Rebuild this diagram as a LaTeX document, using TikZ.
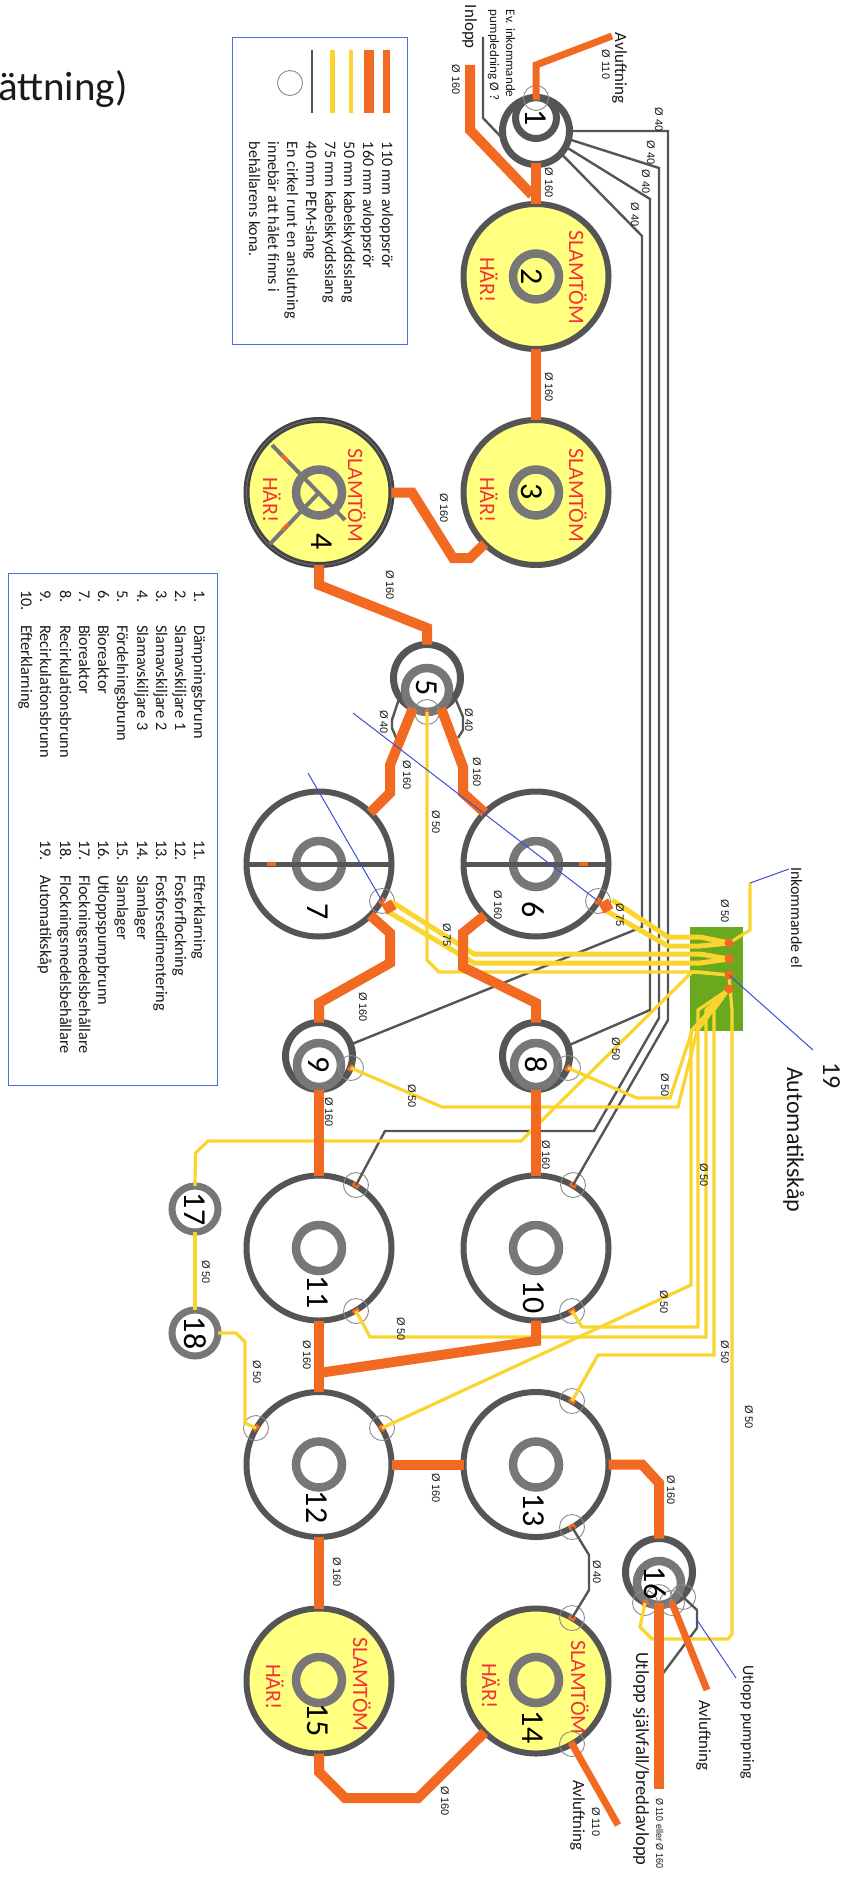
\documentclass[tikz,border=0pt]{standalone}
\usepackage{fontspec}
\setmainfont{Carlito}
\newfontfamily\arialf{Liberation Sans}
\definecolor{ring}{HTML}{555555}
\definecolor{ringl}{HTML}{777777}
\definecolor{pipe}{HTML}{F26A21}
\definecolor{yel}{HTML}{FAD52F}
\definecolor{sludge}{HTML}{FFFF80}
\definecolor{bluel}{HTML}{3A50D8}
\definecolor{boxb}{HTML}{4A6FE3}
\definecolor{slamred}{HTML}{F5303A}
\definecolor{grn}{HTML}{6AA81E}
\definecolor{txt}{HTML}{1A1A1A}
\newcounter{lc}
\newcommand{\dia}[3]{\stepcounter{lc}\node[dlab] (d\arabic{lc}) at (#1,#2) {Ø #3};}
\newcommand{\rtxt}[4]{\stepcounter{lc}\node[rot,font=\fontsize{#1}{#1}\selectfont] (r\arabic{lc}) at (#2,#3) {#4};}
\newcommand{\slam}[4]{\stepcounter{lc}\node[rot,slamtxt] (s\arabic{lc}) at (#1,#2) {SLAMTÖM};\node[rot,slamtxt] (h\arabic{lc}) at (#3,#4) {HÄR!};}
\newcommand{\conn}[4]{\node[connc] (#1) at (#2,#3) {};\node[omark,rotate=#4] (#1m) at (#2,#3) {};}
\begin{document}
\begin{tikzpicture}[x=1pt,y=-1pt,
  rot/.style={rotate=-90,anchor=base west,inner sep=0,outer sep=0,text=txt},
  slamtxt/.style={font=\fontsize{22}{22}\selectfont,text=slamred},
  dlab/.style={rot,font=\arialf\fontsize{11}{11}\selectfont},
  numb/.style={rotate=-90,anchor=center,inner sep=0,font=\fontsize{32}{32}\selectfont,text=black},
  tank/.style={circle,draw=ring,fill=white,line width=6,minimum size=145,inner sep=0,outer sep=0},
  slamtank/.style={tank,fill=sludge},
  well/.style={circle,draw=ring,fill=white,line width=7,minimum size=67,inner sep=0,outer sep=0},
  core/.style={circle,draw=ringl,line width=8.5,minimum size=46,inner sep=0,outer sep=0},
  wcore/.style={core,minimum size=44},
  small/.style={circle,draw=ringl,fill=white,line width=7,minimum size=46,inner sep=0,outer sep=0},
  connc/.style={circle,draw=gray!90,line width=0.9,minimum size=25,inner sep=0,outer sep=0},
  omark/.style={fill=pipe,minimum width=7,minimum height=4.5,inner sep=0,outer sep=0},
  bigmark/.style={fill=pipe,minimum width=11,minimum height=11,inner sep=0,outer sep=0,rotate=30},
  p160/.style={draw=pipe,line width=10,miter limit=4},
  p110/.style={draw=pipe,line width=7},
  y50/.style={draw=yel,line width=3.2},
  y75/.style={draw=yel,line width=5},
  g40/.style={draw=ring,line width=2.4},
  bar/.style={draw=ring,line width=5},
  blu/.style={draw=bluel,line width=1},
  frame/.style={draw=boxb,line width=1.4,fill=white}]
\useasboundingbox (0,0) rectangle (843,1881);
\fill[white] (0,0) rectangle (843,1881);

% cut-off heading
\node[anchor=base west,inner sep=0,font=\fontsize{41}{41}\selectfont,text=txt] (head) at (-2,101) {ättning)};

% legend
\node[frame,anchor=north west,minimum width=175,minimum height=307,inner sep=0] (legend) at (232,37) {};
\draw[p110] (386,50) -- (386,113);
\draw[p160] (369,50) -- (369,113);
\draw[y50] (351,50) -- (351,113);
\draw[y75] (332,50) -- (332,113);
\draw[g40] (312,50) -- (312,113);
\node[connc,minimum size=25] (legc) at (290,83) {};
\rtxt{16}{382}{142}{110 mm avloppsrör}
\rtxt{16}{363}{142}{160 mm avloppsrör}
\rtxt{16}{344}{142}{50 mm kabelskyddsslang}
\rtxt{16}{325}{142}{75 mm kabelskyddsslang}
\rtxt{16}{306}{142}{40 mm PEM-slang}
\rtxt{16}{287}{142}{En cirkel runt en anslutning}
\rtxt{16}{268}{142}{innebär att hålet finns i}
\rtxt{16}{249}{142}{behållarens kona.}

% list
\node[frame,anchor=north west,minimum width=209,minimum height=512,inner sep=0] (list) at (8,573) {};
\foreach \i/\xx/\t in {1/194/Dämpningsbrunn,2/175/Slamavskiljare 1,3/156/Slamavskiljare 2,4/137/Slamavskiljare 3,5/117/Fördelningsbrunn,6/98/Bioreaktor,7/79/Bioreaktor,8/60/Recirkulationsbrunn,9/40/Recirkulationsbrunn,10/21/Efterklarning}{
  \node[rot,font=\fontsize{16.3}{16.3}\selectfont] (la\i) at (\xx,590) {\i.};
  \node[rot,font=\fontsize{16.3}{16.3}\selectfont] (lb\i) at (\xx,625) {\t};
}
\foreach \i/\xx/\t in {11/194/Efterklarning,12/175/Fosforflockning,13/156/Fosforsedimentering,14/137/Slamlager,15/117/Slamlager,16/98/Utloppspumpbrunn,17/79/Flockningsmedelsbehållare,18/60/Flockningsmedelsbehållare,19/40/Automatikskåp}{
  \node[rot,font=\fontsize{16.3}{16.3}\selectfont] (la\i) at (\xx,840) {\i.};
  \node[rot,font=\fontsize{16.3}{16.3}\selectfont] (lb\i) at (\xx,875) {\t};
}

% tanks
\node[well] (t1) at (536,131) {};
\node[circle,draw=ring,line width=7,minimum size=41,inner sep=0] (k1) at (536,118) {};
\node[slamtank] (t2) at (536,276.5) {};
\node[slamtank] (t3) at (536,492.5) {};
\node[slamtank,draw=ring!110!white] (t4) at (319,492.5) {};
\draw[ringl,line width=0.7] (t4.center) circle (72.5);
\node[well] (t5) at (427,678) {};
\node[tank] (t6) at (536,864) {};
\node[tank] (t7) at (319,864) {};
\node[well] (t8) at (536,1056) {};
\node[well] (t9) at (319,1056) {};
\node[tank] (t10) at (536,1248) {};
\node[tank] (t11) at (319,1248) {};
\node[tank] (t12) at (319,1464.5) {};
\node[tank] (t13) at (536,1464.5) {};
\node[slamtank] (t14) at (536,1681) {};
\node[slamtank] (t15) at (319,1681) {};
\node[well] (t16) at (659,1572) {};
\node[small] (t17) at (195,1209) {};
\node[small] (t18) at (195,1333) {};

% cores
\node[core] (k2) at (536,276.5) {};
\node[core] (k3) at (536,492.5) {};
\node[core] (k4) at (319,492.5) {};
\node[wcore] (k5) at (427,690) {};
\node[core] (k6) at (536,864) {};
\node[core] (k7) at (319,864) {};
\node[wcore] (k8) at (536,1065) {};
\node[wcore] (k9) at (319,1065) {};
\node[core] (k10) at (536,1248) {};
\node[core] (k11) at (319,1248) {};
\node[core] (k12) at (319,1464.5) {};
\node[core] (k13) at (536,1464.5) {};
\node[core] (k14) at (536,1680) {};
\node[core] (k15) at (319,1680) {};
\node[wcore] (k16) at (659,1583) {};
% partition bars
\draw[bar,draw=ringl,line width=4] (272,445) -- (345,520);
\draw[bar,draw=ringl,line width=4] (319,492.5) -- (270,544);
\draw[bar] (t6.west) -- (t6.east);
\draw[bar] (t7.west) -- (t7.east);
\node[omark,minimum width=9,minimum height=3.5] (m6) at (583,864) {};
\node[omark,minimum width=9,minimum height=3.5] (m7) at (271,864) {};
\node[omark,minimum width=9,minimum height=3,rotate=-45] (m4a) at (285,458) {};
\node[omark,minimum width=9,minimum height=3,rotate=45] (m4b) at (285,527) {};

% slam text
\slam{569}{230}{480}{257}
\slam{569}{448}{480}{477}
\slam{348}{448}{263}{477}
\slam{571}{1640}{482}{1663}
\slam{353}{1637}{266}{1664}

% connection circles
\conn{cf}{536}{98}{0}
\conn{c5}{427}{712}{90}
\conn{c6}{598}{901}{45}
\conn{c7}{382}{901}{45}
\conn{c8}{568}{1068}{45}
\conn{c9}{351}{1068}{45}
\conn{c10a}{573}{1185}{-30}
\conn{c11a}{356}{1185}{-30}
\conn{c10b}{572}{1311}{30}
\conn{c11b}{356}{1311}{30}
\conn{c12a}{382}{1428}{-45}
\conn{c12b}{256}{1428}{45}
\conn{c13a}{572}{1401}{-30}
\conn{c13b}{572}{1527}{30}
\conn{c14a}{572}{1618}{-30}
\conn{c14b}{572}{1744}{30}
\conn{c16a}{645}{1603}{70}
\conn{c16b}{672}{1603}{-70}
\node[connc] (c16c) at (659,1597) {};
\node[connc] (c16d) at (683,1597) {};

% grey 40
\draw[g40] (483,37) -- (483,118) -- (t1.195);
\draw[g40,miter limit=4] (t1.0) -- (668,131) -- (668,1020) -- (c10a.center);
\draw[g40] (t1.-14) -- (659,168) -- (659,1018) -- (594,1131) -- (385,1131) -- (c11a.center);
\draw[g40] (t1.-28) -- (650,199) -- (650,1010) -- (t8.18);
\draw[g40] (t1.-42) -- (642,236) -- (642,927) -- (t9.20);
\draw[g40] (t5.-150) ++(3,-2) -- (392,720) -- (392,728) -- (397,740);
\draw[g40] (t5.-30) ++(-3,-2) -- (463,717) -- (463,730) -- (458,738);
\draw[g40] (c13b.center) -- (589,1555) -- (589,1590) -- (c14a.center);
\draw[g40] (c16d.center) -- (697,1610) -- (697,1628) -- (658,1680);

% electrical box
\node[draw=none,fill=grn,minimum width=53,minimum height=104,inner sep=0] (box) at (716.5,979) {};
\node[circle,fill=pipe,minimum size=9,inner sep=0] (e1) at (729,943) {};
\node[circle,fill=pipe,minimum size=9,inner sep=0] (e2) at (729,959) {};
\node[circle,fill=pipe,minimum size=9,inner sep=0] (e3) at (729,975) {};
\node[circle,fill=pipe,minimum size=9,inner sep=0] (e4) at (729,989) {};
\coordinate (el) at (750,883);

% yellow
\draw[y50] (el) -- (750,930) -- (e1.center);
\draw[y75] (612,900) -- (668,937) -- (700,937) -- (e1.center);
\draw[y75] (603,909) -- (668,946) -- (700,946) -- (e1.center);
\draw[y75] (392,902) -- (474,954) -- (700,954) -- (e2.center);
\draw[y75] (387,911) -- (474,963) -- (700,963) -- (e2.center);
\draw[y50] (c5.center) -- (427,960) -- (439,972) -- (700,972) -- (e3.center);
\draw[y50] (c9.center) -- (442,1107) -- (678,1107) -- (697,1031) -- (e4.center);
\draw[y50] (c8.center) -- (637,1098) -- (670,1098) -- (692,1031) -- (e4.center);
\draw[y50] (t17.south) -- (t18.north);
\draw[y50] (t17.north) -- (195.5,1153) -- (208,1141) -- (521,1141) -- (692,972) -- (e3.center);
\draw[y50] (t18.east) -- (236,1333) -- (245,1342) -- (245,1423) -- (c12b.center);
\draw[y50] (c11b.center) -- (370,1337) -- (706,1337) -- (706,1010) -- (e4.center);
\draw[y50] (c10b.center) -- (582,1327) -- (698,1327) -- (698,1010) -- (e4.center);
\draw[y50] (c13a.center) -- (598,1355) -- (714,1355) -- (714,1010) -- (e4.center);
\draw[y50] (c12a.center) -- (691,1285) -- (691,1031) -- (e4.center);
\draw[y50] (c16a.center) -- (640,1627) -- (652,1639) -- (728,1639) -- (732,1634) -- (732,1010) -- (e3.center);

% pipes
\draw[p160] (470,65) -- (470,130) -- (532,195);
\draw[p160] (t1.south) ++(0,-1) -- (t2.north);
\draw[p110] (cf.center) -- (536,65) -- (612,36);
\draw[p160] (t2.south) -- (t3.north);
\draw[p160] (t3.225) -- (470,558) -- (453,558) -- (412,492.5) -- (t4.east);
\draw[p160] (t4.south) -- (319,585) -- (427,628) -- (t5.north);
\draw[p160] (t5.-115) -- (390,765) -- (390,793) -- (t7.45);
\draw[p160] (t5.-65) -- (463,767) -- (463,793) -- (t6.135);
\draw[p160] (t7.-45) -- (390,933) -- (390,963) -- (319,1003) -- (t9.north);
\draw[p160] (t6.-135) -- (463,933) -- (463,967) -- (536,1003) -- (t8.north);
\draw[p160] (t8.south) -- (t10.north);
\draw[p160] (t9.south) -- (t11.north);
\draw[p160] (t11.south) -- (t12.north);
\draw[p160,miter limit=10] (t10.south) -- (536,1341) -- (319,1373);
\draw[p160] (t12.east) -- (t13.west);
\draw[p160] (t13.east) -- (642,1464.5) -- (659,1483) -- (t16.north);
\draw[p160] (t12.south) -- (t15.north);
\draw[p160] (t15.south) -- (319,1772) -- (345,1798) -- (418,1798) -- (t14.225);
\draw[p160] (659,1603) -- (659,1789);
\coordinate (av16) at (707,1690);
\coordinate (av14) at (618,1825);
\draw[p110] (c16b.center) -- (av16);
\draw[p110] (c14b.center) -- (av14);
\node[bigmark] (q6) at (606,906) {};
\node[bigmark] (q7) at (389,907) {};

% box detail
\foreach \yy in {943,959,975,989}{\fill[pipe] (729,\yy) circle (4.5);}

% numbers
\node[numb] (n1) at (536,118) {1};
\node[numb] (n2) at (532,277) {2};
\node[numb] (n3) at (532,492) {3};
\node[numb] (n4) at (322,542) {4};
\node[numb] (n5) at (427,688) {5};
\node[numb] (n6) at (533,910) {6};
\node[numb] (n7) at (318,912) {7};
\node[numb] (n8) at (536,1065) {8};
\node[numb] (n9) at (319,1065) {9};
\node[numb] (n10) at (534,1297) {10};
\node[numb] (n11) at (318,1292) {11};
\node[numb] (n12) at (317,1507) {12};
\node[numb] (n13) at (534,1510) {13};
\node[numb] (n14) at (533,1727) {14};
\node[numb] (n15) at (318,1720) {15};
\node[numb] (n16) at (655,1583) {16};
\node[numb] (n17) at (195,1209) {17};
\node[numb] (n18) at (195,1333) {18};

% blue leader lines
\coordinate (b1) at (353,713);
\coordinate (b2) at (308,773);
\coordinate (b3) at (789,869);
\coordinate (b4) at (813,1050);
\coordinate (b5) at (736,1678);
\draw[blu] (b1) -- (c6.center);
\draw[blu] (b2) -- (c7.center);
\draw[blu] (b3) -- (el);
\draw[blu] (b4) -- (e3.center);
\draw[blu] (b5) -- (697,1620);

% labels
\dia{452}{65}{160}
\dia{545}{168}{160}
\dia{545}{372}{160}
\dia{440}{493}{160}
\dia{386}{570}{160}
\dia{380}{710}{40}
\dia{465}{708}{40}
\dia{403}{760}{160}
\dia{473}{757}{160}
\dia{432}{810}{50}
\dia{494}{890}{160}
\dia{616}{903}{75}
\dia{443}{923}{75}
\dia{359}{992}{160}
\dia{325}{1097}{160}
\dia{542}{1140}{160}
\dia{612}{1037}{50}
\dia{661}{1073}{50}
\dia{408}{1084}{50}
\dia{202}{1260}{50}
\dia{253}{1360}{50}
\dia{303}{1340}{160}
\dia{397}{1317}{50}
\dia{660}{1290}{50}
\dia{700}{1163}{50}
\dia{721}{1340}{50}
\dia{745}{1405}{50}
\dia{721}{899}{50}
\dia{432}{1473}{160}
\dia{667}{1475}{160}
\dia{333}{1557}{160}
\dia{593}{1560}{40}
\dia{441}{1786}{160}
\dia{592}{1807}{110}
\dia{602}{50}{110}
\dia{655}{108}{40}
\dia{647}{141}{40}
\dia{642}{170}{40}
\dia{631}{203}{40}
\node[dlab,font=\arialf\fontsize{10}{10}\selectfont,xscale=0.9] (dl) at (656,1798) {Ø 110 eller Ø 160};
\rtxt{17}{465}{5}{Inlopp}
\rtxt{13}{506}{10}{Ev. inkommande}
\rtxt{13}{490}{10}{pumpledning Ø ?}
\rtxt{17}{615}{33}{Avluftning}
\rtxt{16}{791}{867}{Inkommande el}
\rtxt{18.5}{636}{1652}{Utlopp självfall/breddavlopp}
\rtxt{17}{699}{1700}{Avluftning}
\rtxt{17}{573}{1780}{Avluftning}
\rtxt{16}{743}{1665}{Utlopp pumpning}
\rtxt{26}{823}{1062}{19}
\rtxt{24}{787}{1067}{Automatikskåp}
\end{tikzpicture}
\end{document}
